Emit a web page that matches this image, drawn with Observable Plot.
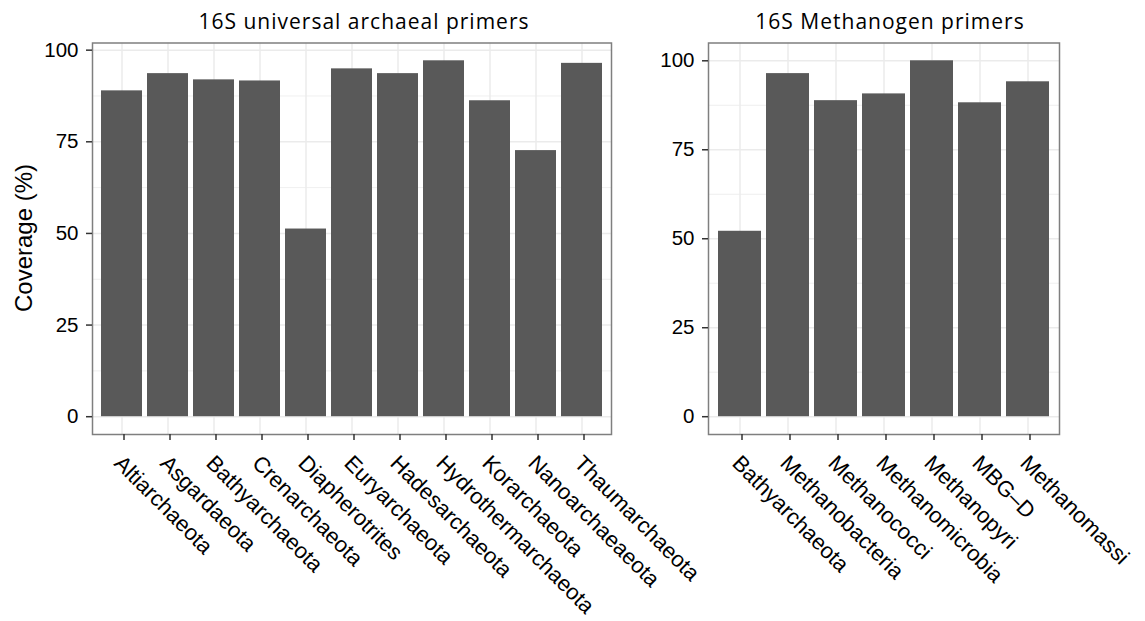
<!DOCTYPE html>
<html><head><meta charset="utf-8">
<script src="https://cdn.jsdelivr.net/npm/d3@7"></script>
<script src="https://cdn.jsdelivr.net/npm/@observablehq/plot@0.6"></script>
<style>
body{margin:0;background:#fff;}
#chart{position:relative;width:1145px;height:621px;overflow:hidden;background:#fff;}
#chart svg{position:absolute;left:0;top:0;overflow:visible;}
.title{position:absolute;font-family:"Open Sans",sans-serif;font-size:21px;letter-spacing:1px;line-height:21px;white-space:nowrap;transform:translateX(-50%);color:#000;}
.ylab{position:absolute;font-family:"Liberation Sans",Arial,sans-serif;font-size:24px;line-height:24px;white-space:nowrap;color:#000;transform:translate(-50%,-50%) rotate(-90deg);}
</style></head><body><div id="chart"></div>
<script>
const universalCategories = ["Altiarchaeota","Asgardaeota","Bathyarchaeota","Crenarchaeota","Diapherotrites","Euryarchaeota","Hadesarchaeota","Hydrothermarchaeota","Korarchaeota","Nanoarchaeaeota","Thaumarchaeota"];
const universalCoverage = [88.9, 93.6, 91.9, 91.6, 51.2, 94.9, 93.6, 97.1, 86.2, 72.6, 96.4];
const methanogenCategories = ["Bathyarchaeota","Methanobacteria","Methanococci","Methanomicrobia","Methanopyri","MBG\u2013D","Methanomassi"];
const methanogenCoverage = [52.1, 96.4, 88.8, 90.7, 100, 88.2, 94.1];
const yTicks = [0, 25, 50, 75, 100];
const yMinorTicks = [12.5, 37.5, 62.5, 87.5];
const panelTitles = ["16S universal archaeal primers", "16S Methanogen primers"];
const yLabel = "Coverage (%)";

function panel(categories, values, marginLeft, marginRight) {
  const data = categories.map((c, i) => ({category: c, coverage: values[i]}));
  const maxV = d3.max(values);
  return Plot.plot({
    width: 1145, height: 621,
    marginLeft, marginRight, marginTop: 42.5, marginBottom: 187,
    style: {background: "transparent", overflow: "visible", fontFamily: "'Liberation Sans', Arial, sans-serif", color: "#000"},
    x: {type: "band", domain: categories, paddingInner: 0.1, paddingOuter: 0.15, label: null},
    y: {domain: [-0.05 * maxV, 1.05 * maxV], label: null},
    marks: [
      Plot.gridY({ticks: yMinorTicks, stroke: "#ebebeb", strokeOpacity: 1, strokeWidth: 0.8}),
      Plot.gridY({ticks: yTicks, stroke: "#ebebeb", strokeOpacity: 1, strokeWidth: 1.5}),
      Plot.gridX({stroke: "#ebebeb", strokeOpacity: 1, strokeWidth: 1.5}),
      Plot.barY(data, {x: "category", y: "coverage", fill: "#595959"}),
      Plot.frame({stroke: "#7f7f7f", strokeWidth: 1.5}),
      Plot.axisY({ticks: yTicks, tickSize: 6, tickPadding: 8, fontSize: 20.5, stroke: "#333", fill: "#000", strokeWidth: 1.5, label: null}),
      Plot.axisX({tickSize: 6, tickPadding: 13, dx: 2, tickRotate: 45, textAnchor: "start", lineAnchor: "top", fontSize: 22, stroke: "#333", fill: "#000", strokeWidth: 1.5, label: null})
    ]
  });
}

const chart = document.getElementById("chart");
chart.appendChild(panel(universalCategories, universalCoverage, 92, 1145 - 611));
chart.appendChild(panel(methanogenCategories, methanogenCoverage, 708, 1145 - 1059));

[[panelTitles[0], 364], [panelTitles[1], 890]].forEach(([t, cx]) => {
  const d = document.createElement("div");
  d.className = "title";
  d.textContent = t;
  d.style.left = cx + "px";
  d.style.top = "11px";
  chart.appendChild(d);
});
const yl = document.createElement("div");
yl.className = "ylab";
yl.textContent = yLabel;
yl.style.left = "23.5px";
yl.style.top = "238px";
chart.appendChild(yl);
</script>
</body></html>
